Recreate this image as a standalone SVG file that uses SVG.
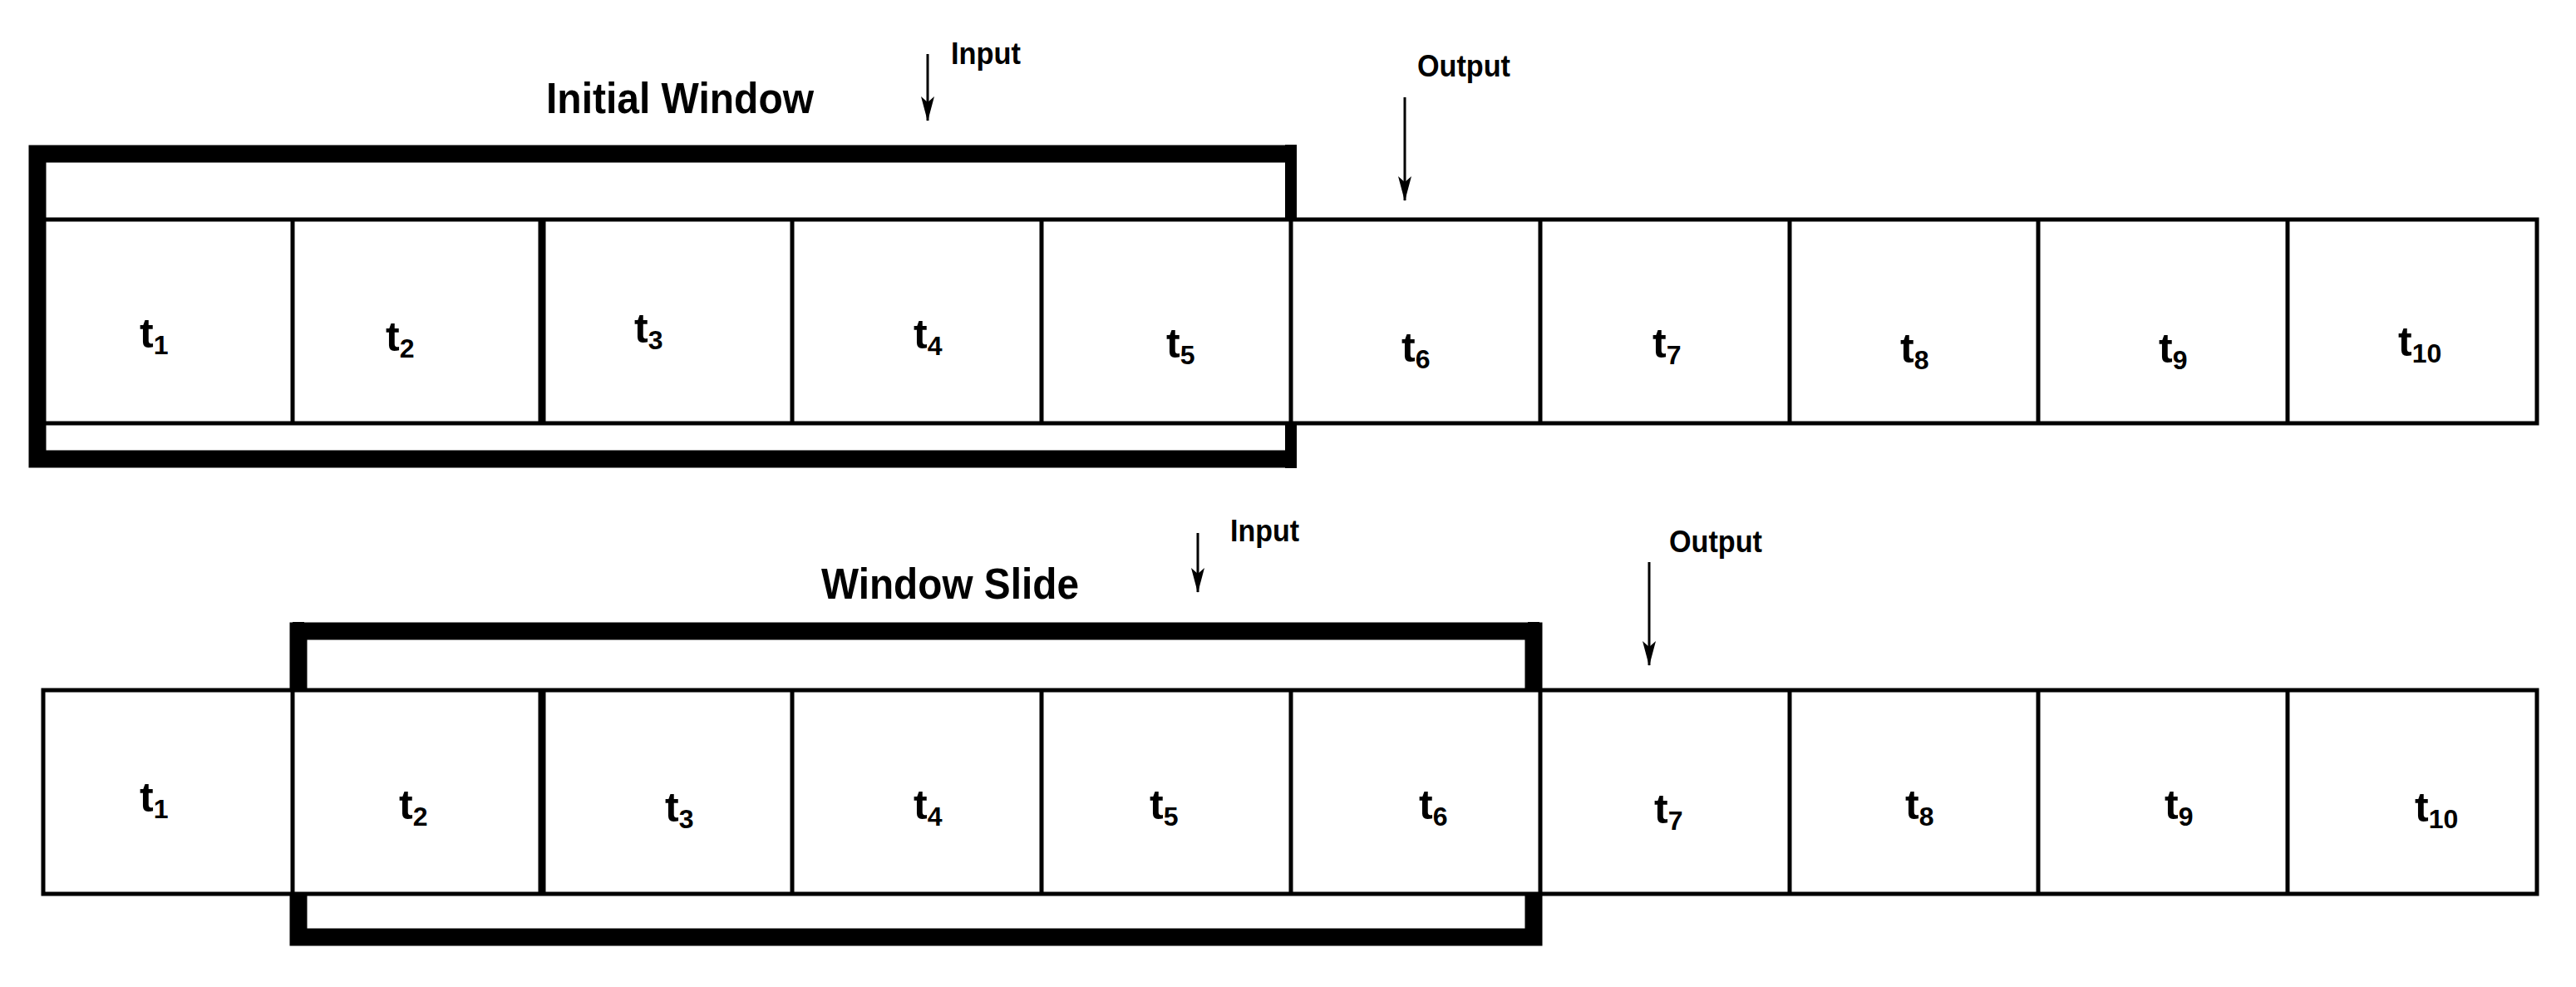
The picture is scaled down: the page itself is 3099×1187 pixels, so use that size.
<svg xmlns="http://www.w3.org/2000/svg" width="3099" height="1187" viewBox="0 0 3099 1187">
<style>
.cell{fill:#fff;stroke:#000;stroke-width:5}
.frame{fill:none;stroke:#000}
.lbl{font-family:"Liberation Sans",Arial,sans-serif;font-weight:bold;font-size:50px;fill:#000}
.sub{font-size:32px}
.ttl{font-family:"Liberation Sans",Arial,sans-serif;font-weight:bold;fill:#000}
.arr{stroke:#000;stroke-width:3;fill:none;marker-end:url(#ah)}
</style>
<defs>
<marker id="ah" markerUnits="userSpaceOnUse" markerWidth="30" markerHeight="16" refX="29" refY="8" orient="auto" viewBox="0 0 30 16">
<path d="M0,0 L30,8 L0,16 L7,8 Z" fill="#000"/>
</marker>
</defs>
<rect width="3099" height="1187" fill="#fff"/>

<g id="row1">
<rect class="cell" x="52" y="264" width="3000" height="245"/>
<g stroke="#000" stroke-width="5">
<line x1="352" y1="264" x2="352" y2="509"/><line x1="652" y1="264" x2="652" y2="509" stroke-width="9"/>
<line x1="953" y1="264" x2="953" y2="509"/><line x1="1253" y1="264" x2="1253" y2="509"/>
<line x1="1553" y1="264" x2="1553" y2="509"/><line x1="1853" y1="264" x2="1853" y2="509"/>
<line x1="2153" y1="264" x2="2153" y2="509"/><line x1="2452" y1="264" x2="2452" y2="509"/>
<line x1="2752" y1="264" x2="2752" y2="509"/>
</g>
</g>
<g id="window1">
<path class="frame" d="M1553,185 H45 V552 H1553" stroke-width="21"/>
<line x1="1553" y1="174" x2="1553" y2="266" stroke="#000" stroke-width="14"/>
<line x1="1553" y1="507" x2="1553" y2="563" stroke="#000" stroke-width="14"/>
</g>
<g id="labels1">
<text class="lbl" x="168" y="418">t<tspan class="sub" dy="8">1</tspan></text>
<text class="lbl" x="464" y="422">t<tspan class="sub" dy="8">2</tspan></text>
<text class="lbl" x="763" y="412">t<tspan class="sub" dy="8">3</tspan></text>
<text class="lbl" x="1099" y="419">t<tspan class="sub" dy="8">4</tspan></text>
<text class="lbl" x="1403" y="430">t<tspan class="sub" dy="8">5</tspan></text>
<text class="lbl" x="1686" y="435">t<tspan class="sub" dy="8">6</tspan></text>
<text class="lbl" x="1988" y="430">t<tspan class="sub" dy="8">7</tspan></text>
<text class="lbl" x="2286" y="436">t<tspan class="sub" dy="8">8</tspan></text>
<text class="lbl" x="2597" y="436">t<tspan class="sub" dy="8">9</tspan></text>
<text class="lbl" x="2885" y="428">t<tspan class="sub" dy="8">10</tspan></text>
</g>
<text class="ttl" x="657" y="136" font-size="52" textLength="322" lengthAdjust="spacingAndGlyphs">Initial Window</text>
<text class="ttl" x="1144" y="77" font-size="36" textLength="84" lengthAdjust="spacingAndGlyphs">Input</text>
<text class="ttl" x="1705" y="92" font-size="36" textLength="112" lengthAdjust="spacingAndGlyphs">Output</text>

<g id="row2">
<rect class="cell" x="52" y="830" width="3000" height="245"/>
<g stroke="#000" stroke-width="5">
<line x1="352" y1="830" x2="352" y2="1075"/><line x1="652" y1="830" x2="652" y2="1075" stroke-width="9"/>
<line x1="953" y1="830" x2="953" y2="1075"/><line x1="1253" y1="830" x2="1253" y2="1075"/>
<line x1="1553" y1="830" x2="1553" y2="1075"/><line x1="1853" y1="830" x2="1853" y2="1075"/>
<line x1="2153" y1="830" x2="2153" y2="1075"/><line x1="2452" y1="830" x2="2452" y2="1075"/>
<line x1="2752" y1="830" x2="2752" y2="1075"/>
</g>
</g>
<g id="window2">
<path class="frame" d="M359,830 V759 H1845 V830 M359,1075 V1127 H1845 V1075" stroke-width="21"/>
<line x1="359" y1="748" x2="359" y2="832" stroke="#000" stroke-width="14"/>
<line x1="1845" y1="748" x2="1845" y2="832" stroke="#000" stroke-width="14"/>
<line x1="359" y1="1073" x2="359" y2="1137" stroke="#000" stroke-width="14"/>
<line x1="1845" y1="1073" x2="1845" y2="1137" stroke="#000" stroke-width="14"/>
</g>
<g id="labels2">
<text class="lbl" x="168" y="976">t<tspan class="sub" dy="8">1</tspan></text>
<text class="lbl" x="480" y="985">t<tspan class="sub" dy="8">2</tspan></text>
<text class="lbl" x="800" y="988">t<tspan class="sub" dy="8">3</tspan></text>
<text class="lbl" x="1099" y="985">t<tspan class="sub" dy="8">4</tspan></text>
<text class="lbl" x="1383" y="985">t<tspan class="sub" dy="8">5</tspan></text>
<text class="lbl" x="1707" y="985">t<tspan class="sub" dy="8">6</tspan></text>
<text class="lbl" x="1990" y="990">t<tspan class="sub" dy="8">7</tspan></text>
<text class="lbl" x="2292" y="985">t<tspan class="sub" dy="8">8</tspan></text>
<text class="lbl" x="2604" y="985">t<tspan class="sub" dy="8">9</tspan></text>
<text class="lbl" x="2905" y="988">t<tspan class="sub" dy="8">10</tspan></text>
</g>
<text class="ttl" x="988" y="720" font-size="52" textLength="310" lengthAdjust="spacingAndGlyphs">Window Slide</text>
<text class="ttl" x="1480" y="651" font-size="36" textLength="83" lengthAdjust="spacingAndGlyphs">Input</text>
<text class="ttl" x="2008" y="664" font-size="36" textLength="112" lengthAdjust="spacingAndGlyphs">Output</text>

<g id="connectors">
<line class="arr" x1="1116" y1="65" x2="1116" y2="145"/>
<line class="arr" x1="1690" y1="117" x2="1690" y2="241"/>
<line class="arr" x1="1441" y1="641" x2="1441" y2="712"/>
<line class="arr" x1="1984" y1="676" x2="1984" y2="800"/>
</g>
</svg>
